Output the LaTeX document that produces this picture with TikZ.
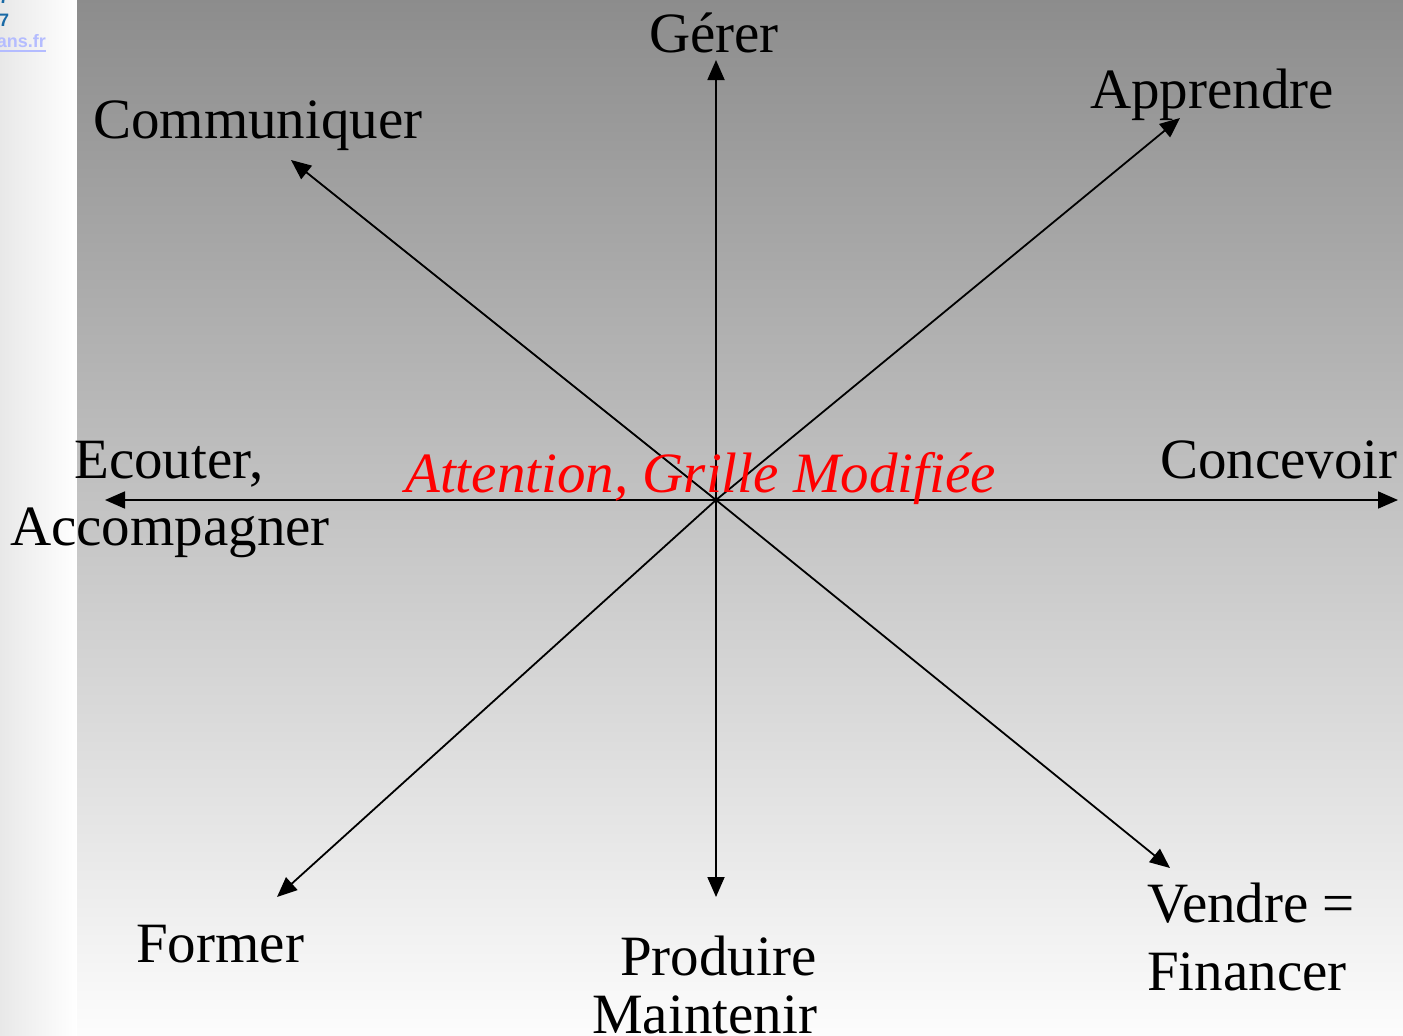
\documentclass[tikz,border=0pt]{standalone}
\usepackage{fontspec}
\setmainfont{Liberation Serif}
\newfontfamily\cornerfont{Liberation Sans}
\usetikzlibrary{arrows.meta}
\definecolor{linkblue}{HTML}{1A6AA6}
\definecolor{linklav}{HTML}{B4BCFF}
\tikzset{
  lbl/.style={inner sep=0pt, font=\fontsize{57}{62}\selectfont, text=black},
  redlbl/.style={inner sep=0pt, font=\fontsize{57}{62}\selectfont\itshape, text=red},
  axis/.style={line width=1.8pt, -{Triangle[length=20pt,width=17pt]}},
  corner/.style={inner sep=0pt, font=\fontsize{18}{20}\selectfont\cornerfont\bfseries},
}
\begin{document}
\begin{tikzpicture}[x=1pt,y=-1pt]
\useasboundingbox (0,0) rectangle (1403,1036);
\begin{scope}
\clip (0,0) rectangle (1403,1036);
% backgrounds
\shade[left color=black!9, right color=white] (0,0) rectangle (77,1036);
\shade[top color=black!45, bottom color=black!1] (77,0) rectangle (1403,1036);
% corner fragments
\node[corner, text=linkblue, anchor=base west] (c0) at (-1,4) {7};
\node[corner, text=linkblue, anchor=base west] (c1) at (-1,26) {7};
\node[corner, text=linklav, anchor=base east] (c2) at (46,47) {ans.fr};
\draw[linklav, line width=1.2pt] (0,51) -- (46,51);
% center and arrow ends
\coordinate (c) at (716,500);
\coordinate (eN) at (716,60);
\coordinate (eS) at (716,897);
\coordinate (eE) at (1398,500);
\coordinate (eW) at (105,500);
\coordinate (eNW) at (291,160);
\coordinate (eNE) at (1180,118);
\coordinate (eSW) at (277,897);
\coordinate (eSE) at (1170,868);
\foreach \e in {eN,eS,eE,eW,eNW,eNE,eSW,eSE} \draw[axis] (c) -- (\e);
% labels
\node[lbl, anchor=base west] (gerer) at (649,52) {Gérer};
\node[lbl, anchor=base west] (comm) at (93,138) {Communiquer};
\node[lbl, anchor=base west] (appr) at (1090,108) {Apprendre};
\node[lbl, anchor=base west] (ecou) at (74,478) {Ecouter,};
\node[lbl, anchor=base west] (acco) at (10,545) {Accompagner};
\node[lbl, anchor=base west] (conc) at (1160,478) {Concevoir};
\node[redlbl, anchor=base west] (attn) at (405,492) {Attention, Grille Modifiée};
\node[lbl, anchor=base west] (form) at (136,962) {Former};
\node[lbl, anchor=base west] (prod) at (620,975) {Produire};
\node[lbl, anchor=base west] (main) at (592,1033) {Maintenir};
\node[lbl, anchor=base west] (vend) at (1147,922) {Vendre =};
\node[lbl, anchor=base west] (fina) at (1147,990) {Financer};
\end{scope}
\end{tikzpicture}
\end{document}
